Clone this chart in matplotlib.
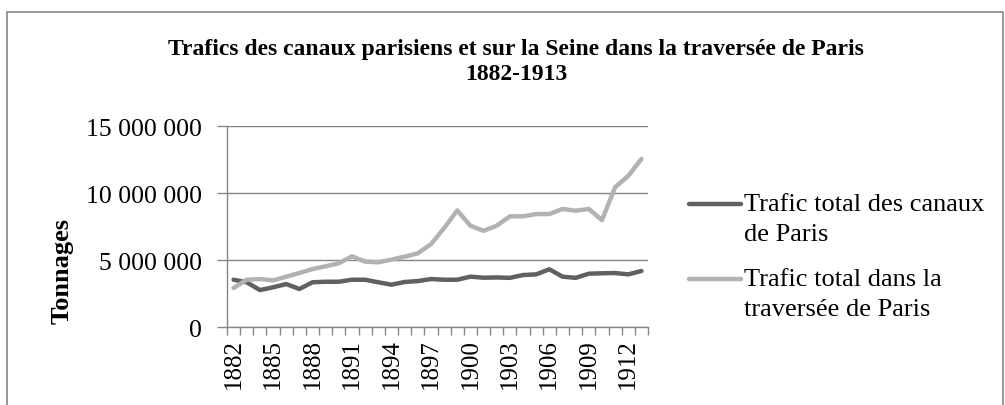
import matplotlib.pyplot as plt
from matplotlib.lines import Line2D
from matplotlib.patches import Rectangle
from matplotlib.ticker import FuncFormatter, MultipleLocator

plt.rcParams["font.family"] = ["Liberation Serif", "DejaVu Serif"]

years = list(range(1882, 1914))
canaux = [3.55, 3.36, 2.78, 2.98, 3.23, 2.86, 3.36, 3.40, 3.40, 3.55, 3.55, 3.36,
          3.18, 3.38, 3.45, 3.60, 3.55, 3.55, 3.78, 3.70, 3.72, 3.69, 3.90, 3.95,
          4.33, 3.78, 3.69, 4.00, 4.03, 4.05, 3.95, 4.20]
seine = [2.93, 3.55, 3.60, 3.50, 3.78, 4.05, 4.35, 4.55, 4.78, 5.30, 4.90, 4.85,
         5.05, 5.27, 5.52, 6.20, 7.40, 8.72, 7.58, 7.20, 7.58, 8.28, 8.28, 8.45,
         8.45, 8.83, 8.70, 8.83, 8.00, 10.45, 11.30, 12.56]
canaux = [v * 1e6 for v in canaux]
seine = [v * 1e6 for v in seine]

labels = [["Trafic total des canaux", "de Paris"],
          ["Trafic total dans la", "traversée de Paris"]]
colors = ["#606060", "#b2b2b2"]

W, H = 1005, 406
fig = plt.figure(figsize=(W / 100, H / 100), dpi=100)
ax = fig.add_axes([227 / W, 1 - 328.3 / H, (648 - 227) / W, (328.3 - 127.3) / H])

for vals, c in zip([canaux, seine], colors):
    ax.plot(years, vals, color=c, linewidth=3.2, solid_capstyle="round",
            solid_joinstyle="round", zorder=3)

ax.set_xlim(1881.5, 1913.5)
ax.set_ylim(0, 15e6)
ax.yaxis.set_major_locator(MultipleLocator(5e6))
ax.yaxis.set_major_formatter(FuncFormatter(lambda v, p: f"{int(v):,}".replace(",", " ")))
ax.set_xticks(years[::3])
ax.set_xticklabels([str(y) for y in years[::3]], rotation=90)
ax.set_xticks([y - 0.5 for y in years] + [years[-1] + 0.5], minor=True)
ax.tick_params(axis="x", which="major", length=0, pad=8, labelsize=18)
ax.tick_params(axis="x", which="minor", length=6, color="#868686", width=1)
ax.tick_params(axis="y", length=7, color="#868686", width=1, labelsize=18.5, pad=11)
ax.grid(axis="y", color="#868686", linewidth=1)
ax.set_axisbelow(True)
for s in ("top", "right"):
    ax.spines[s].set_visible(False)
for s in ("left", "bottom"):
    ax.spines[s].set_color("#868686")
    ax.spines[s].set_linewidth(1)

fig.text(62 / W, 1 - 271 / H, "Tonnages", rotation=90, ha="center", va="center",
         fontsize=19, fontweight="bold")

fig.text(516 / W, 1 - 49 / H, "Trafics des canaux parisiens et sur la Seine dans la traversée de Paris",
         ha="center", va="center", fontsize=17, fontweight="bold")
fig.text(516 / W, 1 - 75 / H, "1882-1913", ha="center", va="center",
         fontsize=17, fontweight="bold")

# legend, drawn by hand so the line sits on the first text line
for i, (lab, c) in enumerate(zip(labels, colors)):
    yl = 205 + i * 75
    fig.lines.append(Line2D([689 / W, 741 / W], [1 - yl / H, 1 - yl / H],
                            color=c, linewidth=3.2, solid_capstyle="round",
                            transform=fig.transFigure))
    for j, part in enumerate(lab):
        fig.text(744 / W, 1 - (yl + 30 * j) / H, part, ha="left", va="center",
                 fontsize=19)

fig.patches.append(Rectangle((6.5 / W, -0.1), (1002.5 - 6.5) / W, 1.1 - 12.7 / H,
                             transform=fig.transFigure, fill=False,
                             edgecolor="#868686", linewidth=1.2))

fig.savefig("out.png", dpi=100)
